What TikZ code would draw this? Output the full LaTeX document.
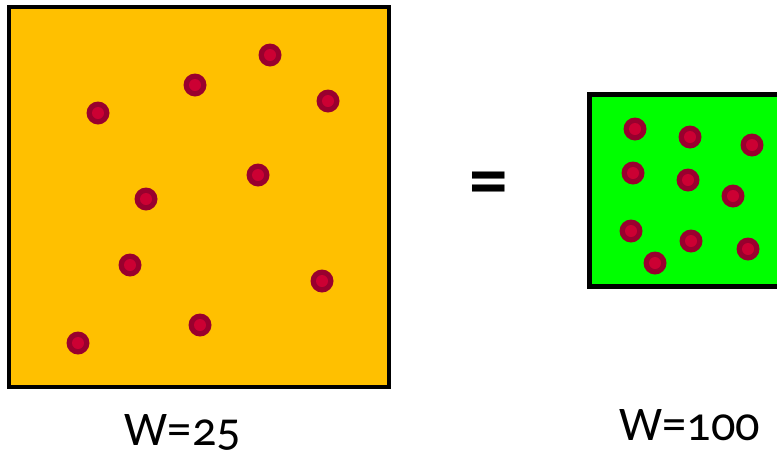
\documentclass[tikz,border=0pt]{standalone}
\usepackage{fontspec}
\setmainfont[Numbers=OldStyle]{Carlito}
\usepackage{tikz}
\usetikzlibrary{positioning}
\definecolor{boxorange}{HTML}{FFC000}
\definecolor{boxgreen}{HTML}{00FF00}
\definecolor{dotdark}{HTML}{99002E}
\definecolor{dotred}{HTML}{CC0033}
\begin{document}
\begin{tikzpicture}[x=0.02cm,y=-0.02cm,
  box/.style={draw=black,line width=2.3pt},
  label/.style={font=\fontsize{27.5}{30}\selectfont,anchor=base}]
\useasboundingbox (0,0) rectangle (777,457);
\draw[box,fill=boxorange] (9,7) rectangle (389,387);
\draw[box,fill=boxgreen] (589.5,94.5) rectangle (800,286.5);
\foreach \x/\y in {98/113,195/85,270/55,328/101,258/175,146/199,130/265,322/281,200/325,78/343,
  635/129,690/137,752/145,633/173,688/180,733/196,631/231,691/241,748/249,655/263}{
  \fill[dotdark] (\x,\y) circle (11.5);
  \fill[dotred] (\x,\y) circle (6);
}
\node[font=\bfseries\fontsize{44}{44}\selectfont] (eq) at (488.5,189) {=};
\node[label] (wleft) at (183,445) {W=25};
\node[label] (wright) at (690,440) {W=100};
\end{tikzpicture}
\end{document}
